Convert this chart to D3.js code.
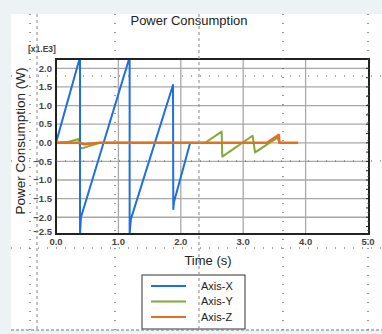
<!DOCTYPE html>
<html>
<head>
<meta charset="utf-8">
<script src="https://cdn.jsdelivr.net/npm/d3@7"></script>
<style>
  body { margin: 0; background: #edf2f5; }
  text { font-family: "Liberation Sans", Arial, sans-serif; }
</style>
</head>
<body>
<div id="chart"></div>
<script>
// Chart data (time in s, power in kW)
let blueTime  = [0.0, 0.385, 0.385, 0.40, 1.18, 1.18, 1.20, 1.875, 1.88, 1.89, 2.15];
let blueValue = [0.0, 2.30, -2.45, -2.00, 2.30, -2.45, -2.05, 1.55, -1.78, -1.60, 0.0];

let greenTime  = [0.0, 0.20, 0.37, 0.385, 0.42, 0.70, 2.39, 2.655, 2.665, 3.15, 3.19, 3.55, 3.58, 3.64];
let greenValue = [0.0, 0.03, 0.10, -0.12, -0.15, 0.0, 0.0, 0.30, -0.37, 0.19, -0.26, 0.14, 0.0, 0.0];

let orangeTime  = [0.0, 0.38, 0.45, 0.70, 3.38, 3.57, 3.58, 3.88];
let orangeValue = [0.0, 0.0, -0.04, 0.0, 0.0, 0.21, 0.0, 0.0];

let seriesNames = ["Axis-X", "Axis-Y", "Axis-Z"];
let seriesColors = ["#1f6fe0", "#84a83a", "#e2711d"];

let xTicks = [0, 1, 2, 3, 4, 5];
let yTicks = [2.0, 1.5, 1.0, 0.5, 0.0, -0.5, -1.0, -1.5, -2.0, -2.5];

// SVG size
let svgWidth = 382;
let svgHeight = 334;

// plot area
let plot = { left: 56, right: 369, top: 59, bottom: 234 };

let svg = d3.select("#chart")
    .append("svg")
    .attr("width", svgWidth)
    .attr("height", svgHeight);

// white page
svg.append("rect")
    .attr("x", 11).attr("y", 14)
    .attr("width", svgWidth - 11).attr("height", 316)
    .attr("fill", "#fff");

// scales
let xScale = d3.scaleLinear().domain([0, 5]).range([plot.left, plot.right - 1]);
let yScale = d3.scaleLinear().domain([-2.45, 2.25]).range([plot.bottom, plot.top]);

// grid lines
svg.append("g")
    .selectAll("line")
    .data(yTicks.filter(d => yScale(d) < plot.bottom - 2))
    .enter()
    .append("line")
    .attr("x1", plot.left).attr("x2", plot.right)
    .attr("y1", d => yScale(d)).attr("y2", d => yScale(d))
    .attr("stroke", "#a8a8a8")
    .attr("stroke-width", 1.3);

svg.append("g")
    .selectAll("line")
    .data(xTicks.slice(1, -1))
    .enter()
    .append("line")
    .attr("x1", d => xScale(d)).attr("x2", d => xScale(d))
    .attr("y1", plot.top).attr("y2", plot.bottom)
    .attr("stroke", "#a8a8a8")
    .attr("stroke-width", 1.3);

// clip for the data lines
svg.append("clipPath")
    .attr("id", "plotClip")
    .append("rect")
    .attr("x", plot.left).attr("y", plot.top)
    .attr("width", plot.right - plot.left).attr("height", plot.bottom - plot.top);

let line = d3.line()
    .x(d => xScale(d[0]))
    .y(d => yScale(d[1]));

let seriesData = [
    d3.zip(blueTime, blueValue),
    d3.zip(greenTime, greenValue),
    d3.zip(orangeTime, orangeValue)
];

// draw green first, then blue, orange on top
let lineGroup = svg.append("g").attr("clip-path", "url(#plotClip)");
[1, 0, 2].forEach(function(i) {
    lineGroup.append("path")
        .datum(seriesData[i])
        .attr("d", line)
        .attr("fill", "none")
        .attr("stroke", seriesColors[i])
        .attr("stroke-width", i == 2 ? 2.6 : 2)
        .attr("stroke-linejoin", "round");
});

// plot frame
svg.append("rect")
    .attr("x", plot.left).attr("y", plot.top)
    .attr("width", plot.right - plot.left).attr("height", plot.bottom - plot.top)
    .attr("fill", "none")
    .attr("stroke", "#222")
    .attr("stroke-width", 2);

// small minor ticks on the right edge
svg.append("g")
    .selectAll("line")
    .data(d3.range(-2.25, 2.25, 0.25))
    .enter()
    .append("line")
    .attr("x1", plot.right - 3).attr("x2", plot.right)
    .attr("y1", d => yScale(d)).attr("y2", d => yScale(d))
    .attr("stroke", "#222");

// y tick labels
svg.append("g")
    .selectAll("text")
    .data(yTicks)
    .enter()
    .append("text")
    .attr("x", plot.left - 4)
    .attr("y", d => Math.min(yScale(d), plot.bottom - 2))
    .attr("dy", "0.35em")
    .attr("text-anchor", "end")
    .attr("font-size", 9.5)
    .attr("font-weight", "bold")
    .style("fill", "#444")
    .text(d => d3.format(".1f")(d));

// x tick labels
svg.append("g")
    .selectAll("text")
    .data(xTicks)
    .enter()
    .append("text")
    .attr("x", d => xScale(d))
    .attr("y", plot.bottom + 11)
    .attr("text-anchor", "middle")
    .attr("font-size", 9.5)
    .attr("font-weight", "bold")
    .style("fill", "#444")
    .text(d => d3.format(".1f")(d));

// exponent
svg.append("text")
    .attr("x", 28).attr("y", 52)
    .attr("font-size", 8.5)
    .attr("font-weight", "bold")
    .style("fill", "#444")
    .text("[x1.E3]");

// title
svg.append("text")
    .attr("x", 189).attr("y", 25)
    .attr("text-anchor", "middle")
    .attr("font-size", 13)
    .style("fill", "#222")
    .text("Power Consumption");

// axis titles
svg.append("text")
    .attr("transform", "translate(25, 141) rotate(-90)")
    .attr("text-anchor", "middle")
    .attr("font-size", 13.5)
    .style("fill", "#222")
    .text("Power Consumption (W)");

svg.append("text")
    .attr("x", 208).attr("y", 265)
    .attr("text-anchor", "middle")
    .attr("font-size", 13)
    .style("fill", "#222")
    .text("Time (s)");

// legend
let legend = svg.append("g").attr("transform", "translate(142, 275)");
legend.append("rect")
    .attr("width", 103).attr("height", 54)
    .attr("fill", "#fff")
    .attr("stroke", "#333")
    .attr("stroke-width", 1);

let legendItems = legend.selectAll("g.item")
    .data(seriesNames)
    .enter()
    .append("g")
    .attr("class", "item")
    .attr("transform", (d, i) => `translate(0, ${11 + i * 15.5})`);

legendItems.append("line")
    .attr("x1", 9).attr("x2", 44)
    .attr("stroke", (d, i) => seriesColors[i])
    .attr("stroke-width", 2);

legendItems.append("text")
    .attr("x", 59)
    .attr("dy", "0.35em")
    .attr("font-size", 11)
    .style("fill", "#222")
    .text(d => d);

// dotted guide lines over the page
let guides = svg.append("g").attr("stroke", "#555").attr("stroke-width", 1.2);
[30, 115, 283, 368].forEach(function(x) {
    guides.append("line")
        .attr("x1", x).attr("x2", x).attr("y1", 14).attr("y2", 330)
        .attr("stroke-dasharray", "1 8");
});
[37, 199].forEach(function(x) {
    guides.append("line")
        .attr("x1", x).attr("x2", x).attr("y1", 14).attr("y2", 330)
        .attr("stroke", "#999")
        .attr("stroke-dasharray", "3 3");
});
[76, 161, 248].forEach(function(y) {
    guides.append("line")
        .attr("x1", 11).attr("x2", svgWidth).attr("y1", y).attr("y2", y)
        .attr("stroke-dasharray", "1 8");
});
guides.append("line")
    .attr("x1", 11).attr("x2", svgWidth).attr("y1", 330).attr("y2", 330)
    .attr("stroke", "#777")
    .attr("stroke-dasharray", "3 2");
</script>
</body>
</html>
